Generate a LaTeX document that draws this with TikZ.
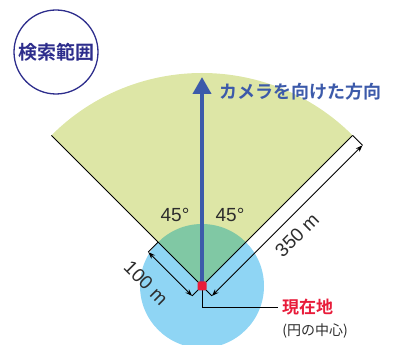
\documentclass[tikz,border=0pt]{standalone}
\usepackage{fontspec}
\setmainfont{Liberation Sans}
\newfontfamily\cjk{Noto Sans CJK JP}[BoldFont={Noto Sans CJK JP Bold}]
\usetikzlibrary{arrows.meta,calc}
\definecolor{secgreen}{RGB}{221,230,166}
\definecolor{circblue}{RGB}{143,213,244}
\definecolor{overlap}{RGB}{128,200,164}
\definecolor{camblue}{RGB}{60,90,170}
\definecolor{navy}{RGB}{45,45,140}
\definecolor{redpt}{RGB}{232,28,58}
\definecolor{txtgray}{RGB}{45,45,45}
\tikzset{
  dimline/.style={black, line width=0.9pt, {Stealth[length=7pt,width=5pt]}-{Stealth[length=7pt,width=5pt]}},
  extline/.style={black, line width=0.9pt},
  lbl/.style={text=txtgray, font=\fontsize{19}{19}\selectfont, inner sep=0pt},
}
\begin{document}
\begin{tikzpicture}[x=1pt,y=1pt]
\useasboundingbox (0,0) rectangle (396,345);
\clip (0,0) rectangle (396,345);
\coordinate (O) at (202,59);
% blue circle
\fill[circblue] (O) circle (62);
% sector
\fill[secgreen] (O) -- ($(O)+(45:213)$) arc (45:135:213) -- cycle;
% overlap
\begin{scope}
  \clip (O) circle (62);
  \fill[overlap] (O) -- ($(O)+(45:213)$) arc (45:135:213) -- cycle;
\end{scope}
% edges
\coordinate (Rr) at ($(O)+(45:213)$);
\coordinate (Lr) at ($(O)+(135:62)$);
\coordinate (Le) at ($(O)+(135:213)$);
\draw[extline] (O) -- (Rr);
\draw[extline] (O) -- (Le);
% dimension 100 m
\coordinate (A1) at ($(O)+(225:14)$);
\coordinate (A2) at ($(A1)+(135:62)$);
\draw[extline] (O) -- (A1);
\draw[extline] (Lr) -- (A2);
\draw[dimline] (A1) -- (A2);
% dimension 350 m
\coordinate (B1) at ($(O)+(-45:14)$);
\coordinate (B2) at ($(B1)+(45:213)$);
\draw[extline] (O) -- (B1);
\draw[extline] (Rr) -- (B2);
\draw[dimline] (B1) -- (B2);
% camera arrow
\coordinate (T) at (202,268);
\draw[camblue, line width=4pt, -{Triangle[width=18pt,length=17pt]}] (O) -- (T);
\node[anchor=west, text=camblue, font=\cjk\bfseries\fontsize{18}{18}\selectfont, inner sep=0pt] (cam) at (219,253) {カメラを向けた方向};
% angle labels
\node[lbl] (a1) at (175,130) {45°};
\node[lbl] (a2) at (230,130) {45°};
\node[lbl, rotate=-45] (d1) at (146,62) {100 m};
\node[lbl, rotate=45] (d2) at (297,110) {350 m};
% leader
\coordinate (K) at (278,38);
\draw[black, line width=0.9pt] (O) |- (K);
% red dot
\node[fill=redpt, minimum size=9pt, inner sep=0pt, rounded corners=1.5pt] (dot) at (O) {};
\node[anchor=west, text=redpt, font=\cjk\bfseries\fontsize{17}{17}\selectfont, inner sep=0pt] (here) at (282,38) {現在地};
\node[text=txtgray, font=\cjk\fontsize{14}{14}\selectfont, inner sep=0pt] (note) at (315,14) {(円の中心)};
% title circle
\node[draw=navy, line width=1.3pt, circle, minimum size=84pt, inner sep=0pt, text=navy, font=\cjk\bfseries\fontsize{19}{19}\selectfont] (title) at (56,293) {検索範囲};
\end{tikzpicture}
\end{document}
